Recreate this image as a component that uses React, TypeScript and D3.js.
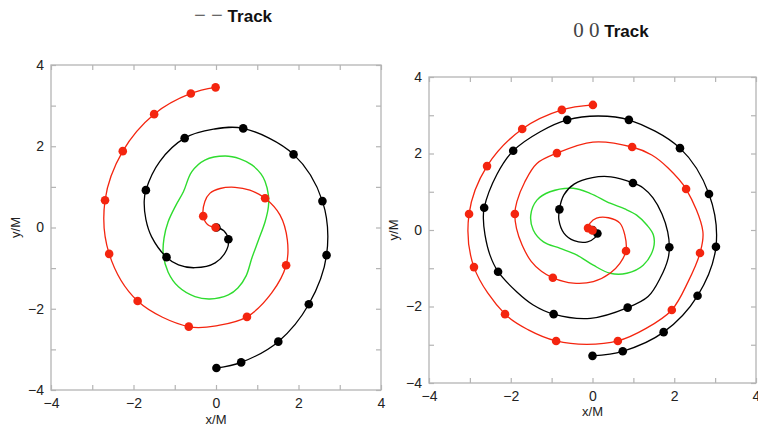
import { useEffect, useRef } from "react";
import * as d3 from "d3";

type Pt = [number, number];

// ---- left panel: "− − Track" ----
const redLeftPath: Pt[] = [
  [-0.01, 3.45], [-0.61, 3.30], [-1.50, 2.79], [-2.26, 1.88], [-2.69, 0.67], [-2.59, -0.65],
  [-1.90, -1.81], [-0.66, -2.44], [0.06, -2.41], [0.75, -2.20], [1.35, -1.61], [1.70, -0.93],
  [1.73, -0.31], [1.55, 0.31], [1.19, 0.72], [0.82, 0.92], [0.46, 0.99], [0.10, 0.96],
  [-0.15, 0.84], [-0.27, 0.64], [-0.31, 0.28], [-0.19, 0.06], [-0.01, 0.00],
];
const redLeftDots: Pt[] = [
  [-0.01, 3.45], [-0.61, 3.30], [-1.50, 2.79], [-2.26, 1.88], [-2.69, 0.67], [-2.59, -0.65],
  [-1.90, -1.81], [-0.66, -2.44], [0.75, -2.20], [1.70, -0.93], [1.19, 0.72], [-0.31, 0.28],
  [-0.01, 0.00],
];
const blackLeftPath: Pt[] = [
  [0.01, -3.46], [0.61, -3.32], [1.51, -2.81], [2.25, -1.89], [2.68, -0.68], [2.58, 0.65],
  [1.88, 1.80], [0.66, 2.44], [-0.06, 2.42], [-0.76, 2.20], [-1.36, 1.63], [-1.70, 0.92],
  [-1.74, 0.66], [-1.70, 0.20], [-1.56, -0.23], [-1.20, -0.73], [-0.91, -0.92], [-0.51, -0.99],
  [-0.02, -0.87], [0.26, -0.55], [0.30, -0.29], [0.19, -0.08], [0.01, 0.00],
];
const blackLeftDots: Pt[] = [
  [0.01, -3.46], [0.61, -3.32], [1.51, -2.81], [2.25, -1.89], [2.68, -0.68], [2.58, 0.65],
  [1.88, 1.80], [0.66, 2.44], [-0.76, 2.20], [-1.70, 0.92], [-1.20, -0.73], [0.30, -0.29],
  [0.01, 0.00],
];
const greenLeftLoop: Pt[] = [
  [0.22, 1.76], [0.58, 1.69], [0.87, 1.54], [1.09, 1.32], [1.19, 1.13], [1.27, 0.80],
  [1.27, 0.51], [1.19, 0.14], [1.03, -0.31], [0.87, -0.75], [0.73, -1.19], [0.53, -1.49],
  [0.30, -1.66], [-0.15, -1.76], [-0.51, -1.70], [-0.91, -1.46], [-1.16, -1.10], [-1.28, -0.64],
  [-1.26, -0.26], [-1.16, 0.14], [-0.97, 0.55], [-0.79, 0.88], [-0.59, 1.37], [-0.27, 1.66],
];

// ---- right panel: "0 0 Track" ----
const redRightPath: Pt[] = [
  [0.01, 3.27], [-0.75, 3.14], [-1.72, 2.64], [-2.58, 1.67], [-3.02, 0.42], [-2.90, -0.97],
  [-2.14, -2.20], [-1.57, -2.61], [-0.89, -2.90], [-0.14, -2.99], [0.62, -2.90], [1.30, -2.58],
  [1.94, -2.09], [2.34, -1.35], [2.63, -0.60], [2.70, -0.04], [2.29, 1.07], [1.85, 1.62],
  [1.45, 1.96], [0.97, 2.17], [0.01, 2.30], [-0.87, 2.01], [-1.36, 1.74], [-1.66, 1.25],
  [-1.85, 0.74], [-1.90, 0.42], [-1.86, 0.04], [-1.72, -0.40], [-1.50, -0.82], [-1.25, -1.08],
  [-0.97, -1.25], [-0.47, -1.39], [0.02, -1.35], [0.43, -1.13], [0.67, -0.87], [0.82, -0.55],
  [0.79, -0.13], [0.67, 0.18], [0.39, 0.32], [0.10, 0.31], [-0.06, 0.18], [-0.11, 0.05],
  [0.00, -0.01],
];
const redRightDots: Pt[] = [
  [0.01, 3.27], [-0.75, 3.14], [-1.72, 2.64], [-2.58, 1.67], [-3.02, 0.42], [-2.90, -0.97],
  [-2.14, -2.20], [-0.89, -2.90], [0.62, -2.90], [1.94, -2.09], [2.63, -0.60], [2.29, 1.07],
  [0.97, 2.17], [-0.87, 2.01], [-1.90, 0.42], [-0.97, -1.25], [0.82, -0.55], [-0.11, 0.05],
  [0.00, -0.01],
];
const blackRightPath: Pt[] = [
  [0.00, -3.29], [0.74, -3.17], [1.74, -2.67], [2.57, -1.72], [3.02, -0.44], [2.85, 0.94],
  [2.14, 2.14], [0.89, 2.88], [0.14, 2.98], [-0.62, 2.88], [-1.28, 2.57], [-1.94, 2.07],
  [-2.34, 1.45], [-2.65, 0.58], [-2.67, 0.30], [-2.63, -0.13], [-2.51, -0.65], [-2.31, -1.09],
  [-1.85, -1.62], [-1.45, -1.96], [-0.95, -2.20], [-0.05, -2.31], [0.86, -2.03], [1.36, -1.74],
  [1.66, -1.25], [1.85, -0.74], [1.88, -0.45], [1.84, -0.05], [1.70, 0.42], [1.48, 0.84],
  [1.24, 1.10], [0.99, 1.23], [0.45, 1.39], [0.00, 1.37], [-0.45, 1.20], [-0.70, 0.92],
  [-0.81, 0.54], [-0.82, 0.25], [-0.70, -0.08], [-0.45, -0.28], [-0.12, -0.31], [0.06, -0.20],
  [0.12, -0.09], [0.00, 0.00],
];
const blackRightDots: Pt[] = [
  [0.00, -3.29], [0.74, -3.17], [1.74, -2.67], [2.57, -1.72], [3.02, -0.44], [2.85, 0.94],
  [2.14, 2.14], [0.89, 2.88], [-0.62, 2.88], [-1.94, 2.07], [-2.65, 0.58], [-2.31, -1.09],
  [-0.95, -2.20], [0.86, -2.03], [1.88, -0.45], [0.99, 1.23], [-0.81, 0.54], [0.12, -0.09],
  [0.00, 0.00],
];
const greenRightLoop: Pt[] = [
  [-0.47, 1.09], [-0.06, 0.96], [0.43, 0.70], [0.79, 0.55], [1.08, 0.39], [1.33, 0.13],
  [1.49, -0.13], [1.49, -0.48], [1.24, -0.92], [0.84, -1.13], [0.43, -1.13], [0.02, -0.92],
  [-0.39, -0.65], [-0.79, -0.48], [-1.20, -0.31], [-1.45, 0.00], [-1.51, 0.39], [-1.36, 0.78],
  [-1.04, 1.00],
];

const axisDomain: [number, number] = [-4, 4];
const tickValues = [-4, -3, -2, -1, 0, 1, 2, 3, 4];

const RED = "#f4250f";
const GREEN = "#2fdc2f";
const FRAME = "#b4b4b4";

const panels = [
  {
    symbol: "− −", x0: 51, x1: 381, y0: 390, y1: 65, titleX: 233, titleY: 22,
    red: redLeftPath, redDots: redLeftDots, black: blackLeftPath, blackDots: blackLeftDots, green: greenLeftLoop,
    xLabelY: 424, yLabelX: 20,
  },
  {
    symbol: "0 0", x0: 429, x1: 756, y0: 383, y1: 77, titleX: 611, titleY: 37,
    red: redRightPath, redDots: redRightDots, black: blackRightPath, blackDots: blackRightDots, green: greenRightLoop,
    xLabelY: 416, yLabelX: 398,
  },
];

export default function App() {
  const ref = useRef<SVGSVGElement>(null);

  useEffect(() => {
    const svg = d3.select(ref.current);
    svg.selectAll("*").remove();

    const fmt = (d: any) => (d % 2 === 0 ? d3.format("d")(d) : "");

    panels.forEach((p) => {
      const x = d3.scaleLinear().domain(axisDomain).range([p.x0, p.x1]);
      const y = d3.scaleLinear().domain(axisDomain).range([p.y0, p.y1]);
      const g = svg.append("g");

      // frame
      g.append("rect")
        .attr("x", p.x0).attr("y", p.y1)
        .attr("width", p.x1 - p.x0).attr("height", p.y0 - p.y1)
        .attr("fill", "none").attr("stroke", FRAME).attr("stroke-width", 1.3);

      const styleAxis = (sel: any) => {
        sel.select(".domain").remove();
        sel.selectAll(".tick line").attr("stroke", FRAME).attr("stroke-width", 1.2);
        sel.selectAll(".tick text")
          .attr("fill", "#222")
          .style("font-family", "'Liberation Sans', Arial, sans-serif")
          .style("font-size", "14px");
      };

      g.append("g").attr("transform", `translate(0,${p.y0})`)
        .call(d3.axisBottom(x).tickValues(tickValues).tickSizeInner(-5).tickSizeOuter(0).tickPadding(8).tickFormat(fmt))
        .call(styleAxis);
      g.append("g").attr("transform", `translate(${p.x0},0)`)
        .call(d3.axisLeft(y).tickValues(tickValues).tickSizeInner(-5).tickSizeOuter(0).tickPadding(7).tickFormat(fmt))
        .call(styleAxis);
      g.append("g").attr("transform", `translate(0,${p.y1})`)
        .call(d3.axisTop(x).tickValues(tickValues).tickSizeInner(-5).tickSizeOuter(0).tickFormat(() => ""))
        .call(styleAxis);
      g.append("g").attr("transform", `translate(${p.x1},0)`)
        .call(d3.axisRight(y).tickValues(tickValues).tickSizeInner(-5).tickSizeOuter(0).tickFormat(() => ""))
        .call(styleAxis);

      // axis titles
      g.append("text")
        .attr("x", x(0)).attr("y", p.xLabelY)
        .attr("text-anchor", "middle")
        .style("font-family", "'Liberation Sans', Arial, sans-serif")
        .style("font-size", "13px").attr("fill", "#222")
        .text("x/M");
      g.append("text")
        .attr("transform", `translate(${p.yLabelX},${y(0)}) rotate(-90)`)
        .attr("text-anchor", "middle")
        .style("font-family", "'Liberation Sans', Arial, sans-serif")
        .style("font-size", "13px").attr("fill", "#222")
        .text("y/M");

      // title
      const t = g.append("text")
        .attr("x", p.titleX).attr("y", p.titleY)
        .attr("text-anchor", "middle");
      t.append("tspan")
        .style("font-family", "'Liberation Serif', serif")
        .style("font-size", "21px").attr("fill", "#444")
        .text(p.symbol);
      t.append("tspan")
        .style("font-family", "'Liberation Sans', Arial, sans-serif")
        .style("font-size", "17px").style("font-weight", "bold").attr("fill", "#111")
        .text(" Track");

      const line = d3.line<Pt>().x((d) => x(d[0])).y((d) => y(d[1])).curve(d3.curveCatmullRom.alpha(0.5));
      const loop = d3.line<Pt>().x((d) => x(d[0])).y((d) => y(d[1])).curve(d3.curveCatmullRomClosed.alpha(0.5));

      g.append("path").attr("d", loop(p.green)).attr("fill", "none").attr("stroke", GREEN).attr("stroke-width", 1.4);
      g.append("path").attr("d", line(p.black)).attr("fill", "none").attr("stroke", "#000").attr("stroke-width", 1.3);
      g.append("path").attr("d", line(p.red)).attr("fill", "none").attr("stroke", RED).attr("stroke-width", 1.3);

      g.selectAll(".bdot").data(p.blackDots).enter().append("circle")
        .attr("cx", (d) => x(d[0])).attr("cy", (d) => y(d[1])).attr("r", 4.3).attr("fill", "#000");
      g.selectAll(".rdot").data(p.redDots).enter().append("circle")
        .attr("cx", (d) => x(d[0])).attr("cy", (d) => y(d[1])).attr("r", 4.3).attr("fill", RED);
    });
  }, []);

  return (
    <svg
      ref={ref}
      width={758}
      height={427}
      style={{ position: "absolute", left: 0, top: 0, background: "#fff" }}
    />
  );
}
